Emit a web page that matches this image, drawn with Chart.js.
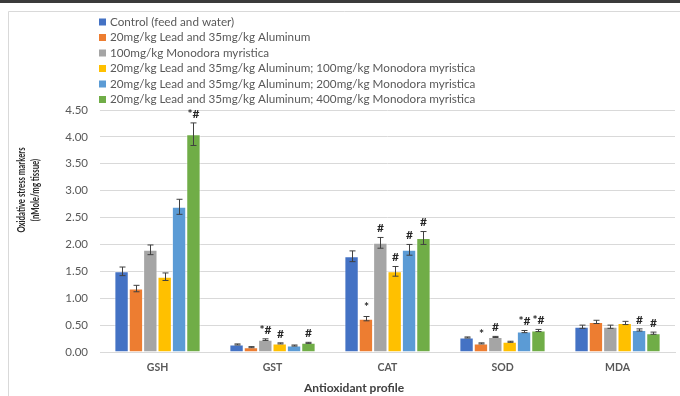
<!DOCTYPE html>
<html>
<head>
<meta charset="utf-8">
<script src="https://cdn.jsdelivr.net/npm/chart.js@4.4.1/dist/chart.umd.min.js"></script>
<style>
  html, body { margin: 0; padding: 0; background: #ffffff; }
  #wrap { position: relative; width: 680px; height: 396px; }
</style>
</head>
<body>
<div id="wrap"><canvas id="chart" width="680" height="396"></canvas></div>
<script>
// Antioxidant markers per treatment group
const categories = ['GSH', 'GST', 'CAT', 'SOD', 'MDA'];
const yTicks = [0, 0.5, 1, 1.5, 2, 2.5, 3, 3.5, 4, 4.5];
const yTitleLines = ['Oxidative stress markers', '(nMole/mg tissue)'];
const xTitle = 'Antioxidant profile';

const seriesNames = [
  'Control (feed and water)',
  '20mg/kg Lead and 35mg/kg Aluminum',
  '100mg/kg Monodora myristica',
  '20mg/kg Lead and 35mg/kg Aluminum; 100mg/kg Monodora myristica',
  '20mg/kg Lead and 35mg/kg Aluminum; 200mg/kg Monodora myristica',
  '20mg/kg Lead and 35mg/kg Aluminum; 400mg/kg Monodora myristica'
];

// Means
const control      = [1.50, 0.14, 1.78, 0.27, 0.47];
const leadAl       = [1.18, 0.09, 0.62, 0.16, 0.56];
const mm100        = [1.90, 0.23, 2.03, 0.28, 0.47];
const leadAlMm100  = [1.40, 0.16, 1.50, 0.19, 0.54];
const leadAlMm200  = [2.70, 0.12, 1.90, 0.38, 0.41];
const leadAlMm400  = [4.05, 0.17, 2.12, 0.40, 0.35];

// Standard errors
const controlErr     = [0.08, 0.01, 0.10, 0.01, 0.03];
const leadAlErr      = [0.06, 0.01, 0.04, 0.01, 0.03];
const mm100Err       = [0.09, 0.015, 0.10, 0.01, 0.03];
const leadAlMm100Err = [0.07, 0.01, 0.09, 0.01, 0.03];
const leadAlMm200Err = [0.14, 0.01, 0.10, 0.02, 0.02];
const leadAlMm400Err = [0.21, 0.01, 0.12, 0.02, 0.02];

// Significance marks (* vs control, # vs lead + aluminum)
const controlMark     = ['', '', '', '', ''];
const leadAlMark      = ['', '', '*', '*', ''];
const mm100Mark       = ['', '*#', '#', '#', ''];
const leadAlMm100Mark = ['', '#', '#', '', ''];
const leadAlMm200Mark = ['', '', '#', '*#', '#'];
const leadAlMm400Mark = ['*#', '#', '#', '*#', '#'];

const colors = ['#4472C4', '#ED7D31', '#A5A5A5', '#FFC000', '#5B9BD5', '#70AD47'];
const values = [control, leadAl, mm100, leadAlMm100, leadAlMm200, leadAlMm400];
const errors = [controlErr, leadAlErr, mm100Err, leadAlMm100Err, leadAlMm200Err, leadAlMm400Err];
const marks  = [controlMark, leadAlMark, mm100Mark, leadAlMm100Mark, leadAlMm200Mark, leadAlMm400Mark];

const FONT = 'Lato, "Open Sans", sans-serif';
const TEXT = '#595959';

const datasets = values.map((v, i) => ({
  label: seriesNames[i],
  data: v,
  backgroundColor: colors[i],
  borderColor: 'rgba(255,255,255,0.55)',
  borderWidth: { top: 1, left: 1, right: 1, bottom: 0 },
  borderSkipped: 'start',
  categoryPercentage: 0.75,
  barPercentage: 1.0
}));

// Page frame: dark strip along the top and a light border round the chart
const framePlugin = {
  id: 'frame',
  beforeDraw(chart) {
    const ctx = chart.ctx;
    ctx.save();
    ctx.fillStyle = '#ffffff';
    ctx.fillRect(0, 0, chart.width, chart.height);
    ctx.fillStyle = '#3b3b3b';
    ctx.fillRect(0, 0, chart.width, 3);
    ctx.strokeStyle = '#d9d9d9';
    ctx.lineWidth = 1;
    ctx.beginPath();
    ctx.moveTo(8.5, chart.height);
    ctx.lineTo(8.5, 11.5);
    ctx.lineTo(chart.width, 11.5);
    ctx.stroke();
    ctx.restore();
  }
};

// Vertical legend list in the upper left, plus the two axis titles
const legendPlugin = {
  id: 'stackLegend',
  afterDraw(chart) {
    const ctx = chart.ctx;
    ctx.save();
    ctx.font = '11.7px ' + FONT;
    ctx.textBaseline = 'middle';
    ctx.textAlign = 'left';
    chart.data.datasets.forEach((ds, i) => {
      const y = 22 + i * 15.5;
      ctx.fillStyle = ds.backgroundColor;
      ctx.fillRect(99, y - 3.5, 7, 7);
      ctx.fillStyle = TEXT;
      ctx.fillText(ds.label, 110, y);
    });

    // y axis title, rotated and set in a condensed face
    ctx.save();
    ctx.translate(22, 190);
    ctx.rotate(-Math.PI / 2);
    ctx.scale(0.74, 1);
    ctx.fillStyle = '#262626';
    ctx.font = 'bold 10.5px ' + FONT;
    ctx.textAlign = 'center';
    ctx.textBaseline = 'middle';
    yTitleLines.forEach((t, k) => ctx.fillText(t, 0, k * 13.5));
    ctx.restore();

    // x axis title
    ctx.fillStyle = '#404040';
    ctx.font = 'bold 12px ' + FONT;
    ctx.textAlign = 'center';
    ctx.textBaseline = 'middle';
    ctx.fillText(xTitle, 354, 388);
    ctx.restore();
  }
};

// Error bars and significance marks above each bar
const errorPlugin = {
  id: 'errorBars',
  afterDatasetsDraw(chart) {
    const ctx = chart.ctx;
    const ys = chart.scales.y;
    ctx.save();
    chart.data.datasets.forEach((ds, i) => {
      const meta = chart.getDatasetMeta(i);
      meta.data.forEach((bar, j) => {
        const v = values[i][j];
        const e = errors[i][j];
        const x = Math.round(bar.x) + 0.5;
        const yt = ys.getPixelForValue(v + e);
        const yb = ys.getPixelForValue(v - e);
        ctx.strokeStyle = '#404040';
        ctx.lineWidth = 1;
        ctx.beginPath();
        ctx.moveTo(x, yt); ctx.lineTo(x, yb);
        ctx.moveTo(x - 3, yt); ctx.lineTo(x + 3, yt);
        ctx.moveTo(x - 3, yb); ctx.lineTo(x + 3, yb);
        ctx.stroke();
        const m = marks[i][j];
        if (m) {
          ctx.fillStyle = '#262626';
          ctx.font = 'bold 12px ' + FONT;
          ctx.textAlign = 'center';
          ctx.textBaseline = 'bottom';
          ctx.fillText(m, x, yt - 3);
        }
      });
    });
    ctx.restore();
  }
};

new Chart(document.getElementById('chart'), {
  type: 'bar',
  data: { labels: categories, datasets },
  plugins: [framePlugin, legendPlugin, errorPlugin],
  options: {
    responsive: false,
    animation: false,
    layout: { padding: { top: 110, right: 5, left: 0, bottom: 0 } },
    plugins: { legend: { display: false }, tooltip: { enabled: false } },
    scales: {
      x: {
        grid: { display: false, drawTicks: false },
        border: { color: '#d9d9d9' },
        ticks: { color: TEXT, font: { family: FONT, size: 10.5, weight: 'bold' }, padding: 9 },
        title: { display: false },
        afterFit(s) { s.height = 44; }
      },
      y: {
        min: 0,
        max: 4.5,
        afterBuildTicks(s) { s.ticks = yTicks.map(v => ({ value: v })); },
        grid: { color: '#d9d9d9', drawTicks: false },
        border: { display: false },
        ticks: {
          color: TEXT,
          font: { family: FONT, size: 11.5 },
          padding: 12,
          callback: v => Number(v).toFixed(2)
        },
        title: { display: false },
        afterFit(s) { s.width = 100; }
      }
    }
  }
});
</script>
</body>
</html>
